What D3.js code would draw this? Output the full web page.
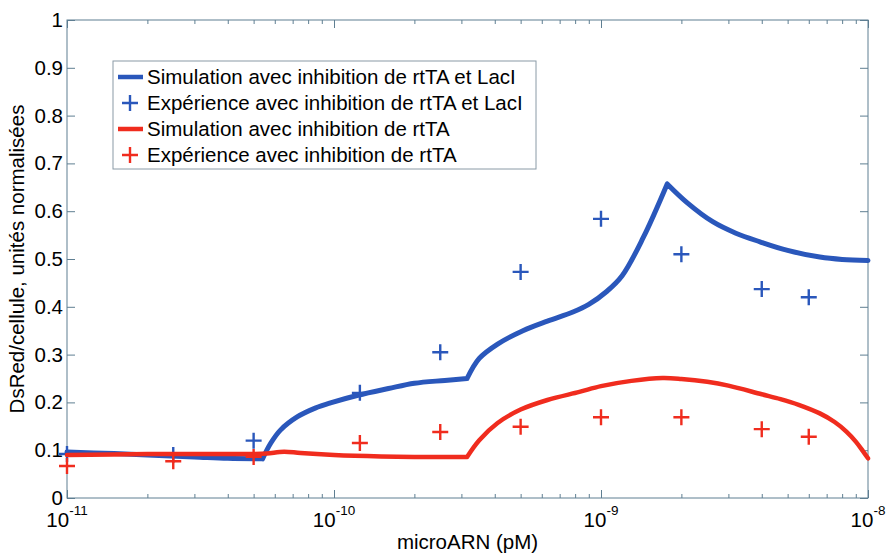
<!DOCTYPE html>
<html><head><meta charset="utf-8">
<script src="https://cdn.jsdelivr.net/npm/d3@7"></script>
<style>html,body{margin:0;padding:0;background:#fff}svg{display:block}text{font-family:"Liberation Sans",Arial,sans-serif}</style>
</head><body>
<script>
// Experimental concentrations (pM axis values)
const xExp = [1e-11, 2.5e-11, 5e-11, 1.25e-10, 2.5e-10, 5e-10, 1e-9, 2e-9, 4e-9, 6e-9];
const blueExp = [0.092, 0.09, 0.12, 0.22, 0.305, 0.473, 0.584, 0.51, 0.437, 0.42];
const redExp = [0.067, 0.077, 0.086, 0.115, 0.138, 0.149, 0.169, 0.169, 0.144, 0.128];

// Simulation curves
const blueSimX = [1e-11,1.5e-11,2e-11,3e-11,4e-11,5.4e-11,5.8e-11,6.3e-11,7.3e-11,8.5e-11,9.7e-11,1.23e-10,1.6e-10,2e-10,2.6e-10,3.15e-10,3.5e-10,4.1e-10,5.1e-10,6.3e-10,7.85e-10,9e-10,1.05e-9,1.2e-9,1.44e-9,1.77e-9,2.1e-9,2.62e-9,3.2e-9,3.94e-9,5e-9,6.6e-9,8e-9,1e-8];
const blueSimY = [0.096,0.093,0.09,0.086,0.083,0.082,0.115,0.142,0.17,0.188,0.199,0.215,0.229,0.24,0.246,0.25,0.292,0.322,0.35,0.37,0.389,0.405,0.432,0.465,0.545,0.657,0.618,0.578,0.554,0.536,0.518,0.504,0.499,0.497];
const blueKinks = [5.4e-11, 3.15e-10, 1.77e-9];
const redSimX = [1e-11,2e-11,3e-11,5e-11,5.6e-11,6.5e-11,7.5e-11,1e-10,1.5e-10,2e-10,3.15e-10,3.5e-10,4.1e-10,5e-10,6.3e-10,8.3e-10,1e-9,1.3e-9,1.7e-9,2e-9,2.5e-9,3e-9,4e-9,4.7e-9,5.5e-9,6.6e-9,7.5e-9,8.3e-9,9e-9,9.6e-9,1e-8];
const redSimY = [0.09,0.092,0.092,0.092,0.093,0.097,0.094,0.09,0.087,0.086,0.086,0.121,0.157,0.185,0.205,0.222,0.234,0.245,0.251,0.249,0.243,0.235,0.217,0.207,0.195,0.177,0.159,0.139,0.118,0.097,0.083];
const redKinks = [3.15e-10];

const xMajor = [1e-11, 1e-10, 1e-9, 1e-8];
const xMajorExp = ["-11", "-10", "-9", "-8"];
const yTicks = [0,0.1,0.2,0.3,0.4,0.5,0.6,0.7,0.8,0.9,1];
const yTickLabels = ["0","0.1","0.2","0.3","0.4","0.5","0.6","0.7","0.8","0.9","1"];
const legendLabels = [
  "Simulation avec inhibition de rtTA et LacI",
  "Expérience avec inhibition de rtTA et LacI",
  "Simulation avec inhibition de rtTA",
  "Expérience avec inhibition de rtTA"
];
const xLabel = "microARN (pM)";
const yLabel = "DsRed/cellule, unités normalisées";

const W = 890, H = 556;
const L = 67, R = 868, T = 20, B = 498;
const BLUE = "#2a57bb", RED = "#f02c1e", AX = "#5f7f92";
const FS = 20.5;

const svg = d3.select("body").append("svg").attr("width", W).attr("height", H);
const x = d3.scaleLog().domain([1e-11, 1e-8]).range([L, R]);
const y = d3.scaleLinear().domain([0, 1]).range([B, T]);

const xMinor = [];
for (let e = -11; e < -8; e++) for (let m = 2; m <= 9; m++) xMinor.push(m * Math.pow(10, e));

function styleAxis(g) {
  g.select(".domain").remove();
  g.selectAll("line").attr("stroke", AX).attr("stroke-width", 1);
}
svg.append("g").attr("transform", `translate(0,${B})`).call(d3.axisBottom(x).tickValues(xMajor).tickSize(-8).tickSizeOuter(0).tickFormat("")).call(styleAxis);
svg.append("g").attr("transform", `translate(0,${B})`).call(d3.axisBottom(x).tickValues(xMinor).tickSize(-4).tickSizeOuter(0).tickFormat("")).call(styleAxis);
svg.append("g").attr("transform", `translate(0,${T})`).call(d3.axisTop(x).tickValues(xMajor).tickSize(-8).tickSizeOuter(0).tickFormat("")).call(styleAxis);
svg.append("g").attr("transform", `translate(0,${T})`).call(d3.axisTop(x).tickValues(xMinor).tickSize(-4).tickSizeOuter(0).tickFormat("")).call(styleAxis);
svg.append("g").attr("transform", `translate(${L},0)`)
  .call(d3.axisLeft(y).tickValues(yTicks).tickSize(-8).tickSizeOuter(0).tickPadding(4).tickFormat((d, i) => yTickLabels[i]))
  .call(styleAxis)
  .call(g => g.selectAll("text").attr("fill", "#000").attr("font-size", FS).attr("font-family", '"Liberation Sans",Arial,sans-serif'));
svg.append("g").attr("transform", `translate(${R},0)`).call(d3.axisRight(y).tickValues(yTicks).tickSize(-8).tickSizeOuter(0).tickFormat("")).call(styleAxis);

svg.append("rect").attr("x", L).attr("y", T).attr("width", R - L).attr("height", B - T)
  .attr("fill", "none").attr("stroke", AX).attr("stroke-width", 1);

// x tick labels 10^n
const xl = svg.append("g").selectAll("text").data(xMajor).join("text")
  .attr("x", d => x(d)).attr("y", 527).attr("text-anchor", "middle").attr("font-size", FS);
xl.append("tspan").text("10");
xl.append("tspan").attr("dy", -12).attr("font-size", 13.5).text((d, i) => xMajorExp[i]);

svg.append("text").attr("x", (L + R) / 2).attr("y", 549).attr("text-anchor", "middle").attr("font-size", FS).text(xLabel);
svg.append("text").attr("transform", `translate(24,${(T + B) / 2}) rotate(-90)`).attr("text-anchor", "middle").attr("font-size", FS).text(yLabel);

const line = d3.line().x(d => x(d[0])).y(d => y(d[1])).curve(d3.curveCatmullRom.alpha(0.5));
function segments(xs, ys, kinks) {
  const pts = d3.zip(xs, ys);
  const segs = [];
  let cur = [];
  pts.forEach(p => {
    cur.push(p);
    if (kinks.includes(p[0])) { segs.push(cur); cur = [p]; }
  });
  if (cur.length > 1) segs.push(cur);
  return segs.map(s => line(s)).join("");
}
const plot = svg.append("g");
function plus(g, data, color) {
  g.selectAll(null).data(data).join("path")
    .attr("d", d => { const cx = x(d[0]), cy = y(d[1]); return `M${cx-8},${cy}H${cx+8}M${cx},${cy-8}V${cy+8}`; })
    .attr("stroke", color).attr("stroke-width", 2.4).attr("fill", "none");
}
plot.append("path").attr("d", segments(blueSimX, blueSimY, blueKinks)).attr("fill", "none").attr("stroke", BLUE).attr("stroke-width", 5).attr("stroke-linejoin", "round").attr("stroke-linecap", "round");
plus(plot.append("g"), d3.zip(xExp, blueExp), BLUE);
plot.append("path").attr("d", segments(redSimX, redSimY, redKinks)).attr("fill", "none").attr("stroke", RED).attr("stroke-width", 4.5).attr("stroke-linejoin", "round").attr("stroke-linecap", "round");
plus(plot.append("g"), d3.zip(xExp, redExp), RED);

// legend
const lg = svg.append("g");
lg.append("rect").attr("x", 113).attr("y", 61).attr("width", 423).attr("height", 108)
  .attr("fill", "#fff").attr("stroke", "#8a9aa6").attr("stroke-width", 1);
const colors = [BLUE, BLUE, RED, RED];
legendLabels.forEach((lab, i) => {
  const cy = 77 + i * 26;
  if (i % 2 === 0) {
    lg.append("line").attr("x1", 118).attr("x2", 143).attr("y1", cy).attr("y2", cy).attr("stroke", colors[i]).attr("stroke-width", 4.5);
  } else {
    lg.append("path").attr("d", `M${122},${cy}H${138}M${130},${cy-8}V${cy+8}`).attr("stroke", colors[i]).attr("stroke-width", 2.4);
  }
  lg.append("text").attr("x", 147).attr("y", cy + 7).attr("font-size", FS).text(lab);
});
</script>
</body></html>
